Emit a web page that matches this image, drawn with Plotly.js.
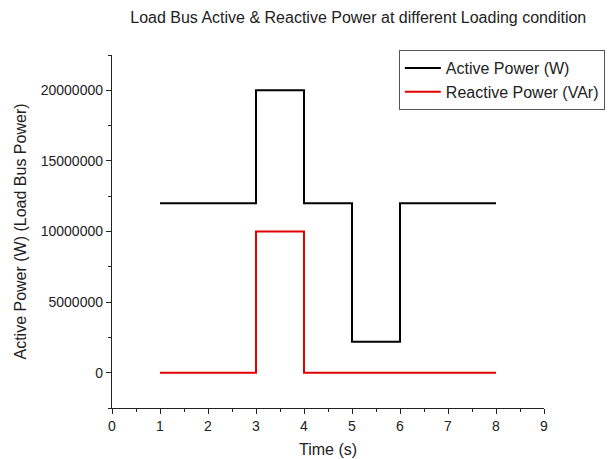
<!DOCTYPE html>
<html><head><meta charset="utf-8">
<script src="https://cdn.plot.ly/plotly-3.0.1.min.js"></script>
<style>html,body{margin:0;padding:0;background:#fff}#c{width:613px;height:459px}</style>
</head><body><div id="c"></div>
<script>
const activeTime = [1, 3, 4, 5, 6, 8];
const activePower = [12000000, 20000000, 12000000, 2200000, 12000000, 12000000];
const reactiveTime = [1, 3, 4, 8];
const reactivePower = [0, 10000000, 0, 0];
const seriesNames = ['Active Power (W)', 'Reactive Power (VAr)'];

const font = 'Liberation Sans, Arial, sans-serif';
const traces = [
  {x: activeTime, y: activePower, name: seriesNames[0], mode: 'lines', line: {shape: 'hv', color: '#000000', width: 2}},
  {x: reactiveTime, y: reactivePower, name: seriesNames[1], mode: 'lines', line: {shape: 'hv', color: '#e00000', width: 2}}
];
const layout = {
  width: 613, height: 459,
  margin: {l: 112, r: 69, t: 55, b: 51, autoexpand: false},
  paper_bgcolor: '#fff', plot_bgcolor: '#fff',
  font: {family: font, color: '#222'},
  title: {text: 'Load Bus Active & Reactive Power at different Loading condition', font: {size: 16, family: font, color: '#222'},
          x: 0.57, xref: 'paper', xanchor: 'center', y: 0.962, yref: 'container', yanchor: 'middle', automargin: false},
  xaxis: {range: [0, 9], dtick: 1, tick0: 0, showgrid: false, zeroline: false, showline: true, linecolor: '#222', linewidth: 1.2,
          ticks: 'outside', ticklen: 5, tickcolor: '#222', tickfont: {size: 14, color: '#222'}, automargin: false,
          minor: {dtick: 0.5, ticks: 'outside', ticklen: 3, tickcolor: '#222', showgrid: false},
          title: {text: 'Time (s)', font: {size: 16, color: '#222'}, standoff: 10}},
  yaxis: {range: [-2500000, 22500000], dtick: 5000000, tick0: 0, tickformat: 'd', showgrid: false, zeroline: false, showline: true,
          linecolor: '#222', linewidth: 1.2, ticks: 'outside', ticklen: 5, tickcolor: '#222', tickfont: {size: 14, color: '#222'}, automargin: false,
          minor: {dtick: 2500000, ticks: 'outside', ticklen: 3, tickcolor: '#222', showgrid: false},
          title: {text: 'Active Power (W) (Load Bus Power)', font: {size: 16, color: '#222'}, standoff: 10}},
  showlegend: true,
  legend: {x: 0.664, xanchor: 'left', y: 1.014, yanchor: 'top', bgcolor: '#fff', bordercolor: '#555', borderwidth: 1,
           font: {size: 16, color: '#222'}, tracegroupgap: 0, itemwidth: 36}
};
Plotly.newPlot('c', traces, layout, {displayModeBar: false, staticPlot: true});
</script></body></html>
